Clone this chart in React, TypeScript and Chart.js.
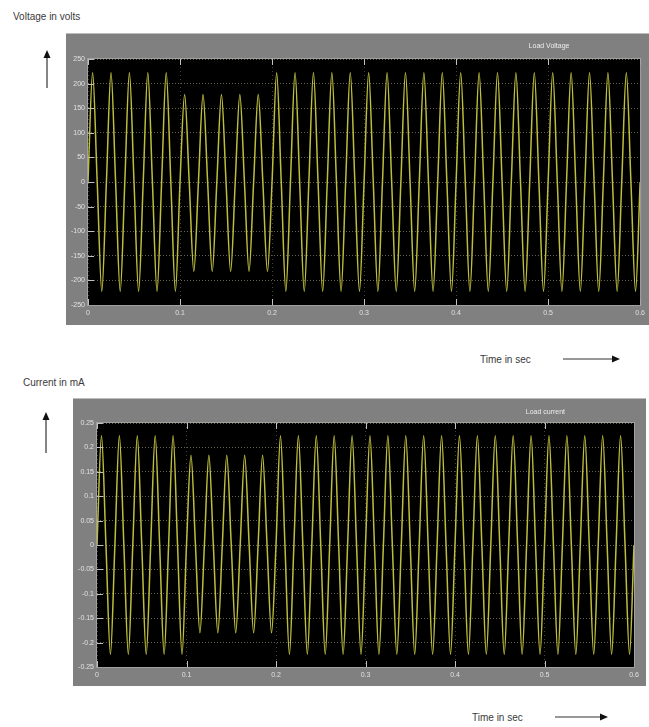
import React, { useEffect, useRef } from 'react';
import { Chart, registerables } from 'chart.js';

Chart.register(...registerables);

// ---- data ----
const cyclePeriod = 0.02; // 50 Hz, 30 cycles over 0..0.6 s
const voltagePeaks = [222, 222, 222, 222, 222, 178, 178, 178, 178, 178, 222, 222, 222, 222, 222, 222, 222, 222, 222, 222, 222, 222, 222, 222, 222, 222, 222, 222, 222, 222];
const voltageTroughs = [-222, -222, -222, -222, -222, -182, -182, -182, -182, -182, -222, -222, -222, -222, -222, -222, -222, -222, -222, -222, -222, -222, -222, -222, -222, -222, -222, -222, -222, -222];
const currentPeaks = [0.224, 0.224, 0.224, 0.224, 0.224, 0.184, 0.184, 0.184, 0.184, 0.184, 0.224, 0.224, 0.224, 0.224, 0.224, 0.224, 0.224, 0.224, 0.224, 0.224, 0.224, 0.224, 0.224, 0.224, 0.224, 0.224, 0.224, 0.224, 0.224, 0.224];
const currentTroughs = [-0.224, -0.224, -0.224, -0.224, -0.224, -0.18, -0.18, -0.18, -0.18, -0.18, -0.224, -0.224, -0.224, -0.224, -0.224, -0.224, -0.224, -0.224, -0.224, -0.224, -0.224, -0.224, -0.224, -0.224, -0.224, -0.224, -0.224, -0.224, -0.224, -0.224];
const timeTicks = [0, 0.1, 0.2, 0.3, 0.4, 0.5, 0.6];
const voltageTicks = [250, 200, 150, 100, 50, 0, -50, -100, -150, -200, -250];
const currentTicks = [0.25, 0.2, 0.15, 0.1, 0.05, 0, -0.05, -0.1, -0.15, -0.2, -0.25];

function buildSeries(peaks: number[], troughs: number[]) {
  const pts: { x: number; y: number }[] = [];
  peaks.forEach((p, i) => {
    const t0 = i * cyclePeriod;
    pts.push({ x: t0, y: 0 });
    pts.push({ x: t0 + cyclePeriod / 4, y: p });
    pts.push({ x: t0 + cyclePeriod / 2, y: 0 });
    pts.push({ x: t0 + (3 * cyclePeriod) / 4, y: troughs[i] });
  });
  pts.push({ x: peaks.length * cyclePeriod, y: 0 });
  return pts;
}

const scopePlugin = {
  id: 'scope',
  beforeDraw(chart: any) {
    const { ctx, chartArea: a } = chart;
    ctx.save();
    ctx.fillStyle = '#000';
    ctx.fillRect(a.left, a.top, a.right - a.left, a.bottom - a.top);
    ctx.restore();
  },
  afterDraw(chart: any, _args: any, opts: any) {
    const { ctx, chartArea: a } = chart;
    const xs = chart.scales.x;
    const ys = chart.scales.y;
    ctx.save();
    ctx.strokeStyle = '#c0c0c0';
    ctx.lineWidth = 1;
    ctx.beginPath();
    xs.ticks.forEach((t: any) => {
      const px = Math.round(xs.getPixelForValue(t.value)) + 0.5;
      ctx.moveTo(px, a.top);
      ctx.lineTo(px, a.top + 6);
      ctx.moveTo(px, a.bottom);
      ctx.lineTo(px, a.bottom - 6);
    });
    ys.ticks.forEach((t: any) => {
      const py = Math.round(ys.getPixelForValue(t.value)) + 0.5;
      ctx.moveTo(a.left, py);
      ctx.lineTo(a.left + 6, py);
    });
    ctx.stroke();
    ctx.strokeStyle = '#a0a0a0';
    ctx.strokeRect(a.left - 0.5, a.top - 0.5, a.right - a.left + 1, a.bottom - a.top + 1);
    ctx.fillStyle = '#ececec';
    ctx.font = '7px "Liberation Sans", Arial, sans-serif';
    ctx.textAlign = 'center';
    ctx.textBaseline = 'middle';
    ctx.fillText(opts.title, a.left + (a.right - a.left) * 0.835, opts.titleY);
    ctx.restore();
  },
};

type ScopeProps = {
  left: number;
  top: number;
  width: number;
  height: number;
  padTop: number;
  padRight: number;
  yAxisWidth: number;
  xAxisHeight: number;
  title: string;
  titleY: number;
  peaks: number[];
  troughs: number[];
  yTicks: number[];
};

function Scope(p: ScopeProps) {
  const ref = useRef<HTMLCanvasElement | null>(null);
  useEffect(() => {
    if (!ref.current) return;
    const yMax = Math.max(...p.yTicks);
    const yMin = Math.min(...p.yTicks);
    const tickFont = { size: 7, family: '"Liberation Sans", Arial, sans-serif' };
    const chart = new Chart(ref.current, {
      type: 'line',
      data: {
        datasets: [
          {
            data: buildSeries(p.peaks, p.troughs),
            borderColor: 'rgb(190,190,62)',
            borderWidth: 1.5,
            pointRadius: 0,
            cubicInterpolationMode: 'monotone',
            fill: false,
          },
        ],
      },
      options: {
        animation: false,
        responsive: true,
        maintainAspectRatio: false,
        layout: { padding: { top: p.padTop, right: p.padRight, left: 0, bottom: 0 } },
        plugins: {
          legend: { display: false },
          tooltip: { enabled: false },
          scope: { title: p.title, titleY: p.titleY },
        } as any,
        scales: {
          x: {
            type: 'linear',
            min: 0,
            max: 0.6,
            afterBuildTicks: (s: any) => {
              s.ticks = timeTicks.map((v) => ({ value: v }));
            },
            afterFit: (s: any) => {
              s.height = p.xAxisHeight;
            },
            ticks: {
              color: '#e0e0e0',
              font: tickFont,
              padding: 4,
              maxRotation: 0,
              autoSkip: false,
              callback: (v: any) => String(v),
            },
            grid: { color: 'rgba(120,120,105,0.55)', drawTicks: false, lineWidth: 1 },
            border: { display: false, dash: [1, 3] },
          },
          y: {
            type: 'linear',
            min: yMin,
            max: yMax,
            afterBuildTicks: (s: any) => {
              s.ticks = p.yTicks.map((v) => ({ value: v }));
            },
            afterFit: (s: any) => {
              s.width = p.yAxisWidth;
            },
            ticks: {
              color: '#e0e0e0',
              font: tickFont,
              padding: 3,
              autoSkip: false,
              callback: (v: any) => String(v),
            },
            grid: { color: 'rgba(150,150,120,0.65)', drawTicks: false, lineWidth: 1 },
            border: { display: false, dash: [1, 2] },
          },
        },
      },
      plugins: [scopePlugin],
    } as any);
    return () => chart.destroy();
  }, []);
  return (
    <div
      style={{
        position: 'absolute',
        left: p.left,
        top: p.top,
        width: p.width,
        height: p.height,
        background: '#808080',
        borderTop: '1px solid #bdbdbd',
        boxSizing: 'border-box',
      }}
    >
      <canvas ref={ref} />
    </div>
  );
}

function UpArrow({ x, y1, y2 }: { x: number; y1: number; y2: number }) {
  return (
    <svg style={{ position: 'absolute', left: x - 5, top: y1, overflow: 'visible' }} width={10} height={y2 - y1}>
      <line x1={5} y1={5} x2={5} y2={y2 - y1} stroke="#333" strokeWidth={1.2} />
      <polygon points={`5,0 1.5,8 8.5,8`} fill="#111" />
    </svg>
  );
}

function RightArrow({ x1, x2, y }: { x1: number; x2: number; y: number }) {
  return (
    <svg style={{ position: 'absolute', left: x1, top: y - 5, overflow: 'visible' }} width={x2 - x1} height={10}>
      <line x1={0} y1={5} x2={x2 - x1 - 5} y2={5} stroke="#333" strokeWidth={1.2} />
      <polygon points={`${x2 - x1},5 ${x2 - x1 - 8},1.5 ${x2 - x1 - 8},8.5`} fill="#111" />
    </svg>
  );
}

const labelStyle: React.CSSProperties = {
  position: 'absolute',
  fontFamily: '"Liberation Sans", Arial, sans-serif',
  fontSize: 10,
  color: '#3a3a3a',
  whiteSpace: 'nowrap',
  lineHeight: '12px',
};

export default function App() {
  return (
    <div
      style={{
        position: 'absolute',
        left: 0,
        top: 0,
        width: 649,
        height: 727,
        overflow: 'hidden',
        background: '#fff',
      }}
    >
      <div style={{ ...labelStyle, left: 13, top: 11 }}>Voltage in volts</div>
      <UpArrow x={47} y1={50} y2={88} />
      <Scope
        left={66}
        top={33}
        width={583}
        height={292}
        padTop={25}
        padRight={4}
        yAxisWidth={22}
        xAxisHeight={20}
        title="Load Voltage"
        titleY={12}
        peaks={voltagePeaks}
        troughs={voltageTroughs}
        yTicks={voltageTicks}
      />
      <div style={{ ...labelStyle, left: 480, top: 354 }}>Time in sec</div>
      <RightArrow x1={563} x2={620} y={359} />

      <div style={{ ...labelStyle, left: 23, top: 377 }}>Current in mA</div>
      <UpArrow x={46} y1={412} y2={453} />
      <Scope
        left={73}
        top={398}
        width={573}
        height={288}
        padTop={24}
        padRight={12}
        yAxisWidth={24}
        xAxisHeight={19}
        title="Load current"
        titleY={13}
        peaks={currentPeaks}
        troughs={currentTroughs}
        yTicks={currentTicks}
      />
      <div style={{ ...labelStyle, left: 472, top: 712 }}>Time in sec</div>
      <RightArrow x1={555} x2={608} y={717} />
    </div>
  );
}
